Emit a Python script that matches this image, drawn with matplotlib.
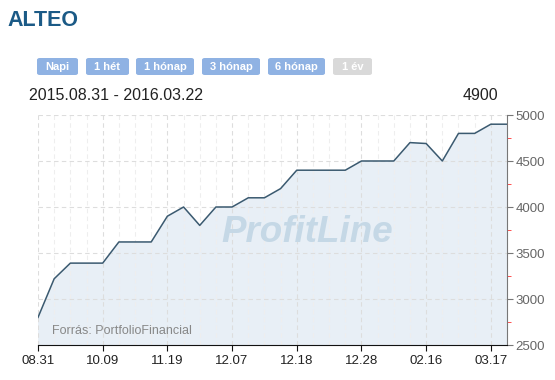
import matplotlib
matplotlib.use("Agg")
import matplotlib.pyplot as plt
from matplotlib.patches import FancyBboxPatch
from matplotlib.ticker import MultipleLocator, FixedLocator

plt.rcParams['font.family'] = ['Liberation Sans', 'DejaVu Sans']

# data (one point per trading sample)
prices = [2800, 3220, 3390, 3390, 3390, 3620, 3620, 3620, 3900, 4000,
          3800, 4000, 4000, 4100, 4100, 4200, 4400, 4400, 4400, 4400,
          4500, 4500, 4500, 4700, 4690, 4500, 4800, 4800, 4900, 4900]
tick_pos = [0, 4, 8, 12, 16, 20, 24, 28]
tick_labels = ['08.31', '10.09', '11.19', '12.07', '12.18', '12.28', '02.16', '03.17']
buttons = ['Napi', '1 hét', '1 hónap', '3 hónap', '6 hónap', '1 év']
period = '2015.08.31 - 2016.03.22'
last_price = '4900'

W, H = 555, 380
fig = plt.figure(figsize=(W / 100, H / 100), dpi=100)

# header
fig.text(7 / W, 1 - 20 / H, 'ALTEO', fontsize=15.5, fontweight='bold',
         color='#1b5a86', va='center', ha='left')

# period buttons (pixel boxes)
btn_x = [37, 86, 136, 202, 268, 333]
btn_w = [41, 43, 58, 58, 57, 39]
for i, b in enumerate(buttons):
    c = '#d9d9d9' if b == '1 év' else '#8fb2e3'
    x0 = btn_x[i] / W
    y0 = 1 - 75 / H
    p = FancyBboxPatch((x0, y0), btn_w[i] / W, 17 / H,
                       boxstyle='round,pad=0,rounding_size=0.005',
                       transform=fig.transFigure, fc=c, ec='none')
    fig.patches.append(p)
    fig.text(x0 + btn_w[i] / 2 / W, y0 + 8.5 / H, b, fontsize=8,
             fontweight='bold', color='white', ha='center', va='center')

fig.text(29 / W, 1 - 95 / H, period, fontsize=11.5, color='#222222',
         ha='left', va='center')
fig.text(498 / W, 1 - 95 / H, last_price, fontsize=11.5, color='#222222',
         ha='right', va='center')

ax = fig.add_axes([38 / W, 1 - 345 / H, (507 - 38) / W, (345 - 115) / H])
x = list(range(len(prices)))
ax.fill_between(x, prices, 2500, color='#e8eff6', zorder=1)
ax.plot(x, prices, color='#3b5a70', lw=1.1, zorder=3)
ax.set_xlim(0, len(prices) - 1)
ax.set_ylim(2500, 5000)

# grid
ax.xaxis.set_major_locator(FixedLocator(tick_pos))
ax.set_xticklabels(tick_labels)
ax.xaxis.set_minor_locator(MultipleLocator(1))
ax.yaxis.set_major_locator(MultipleLocator(500))
ax.yaxis.set_minor_locator(MultipleLocator(250))
ax.grid(which='major', color='#dddddd', ls=(0, (4, 3)), lw=0.8, zorder=0)
ax.grid(which='minor', axis='x', color='#eeeeee', ls=(0, (4, 3)), lw=0.8, zorder=0)

ax.yaxis.tick_right()
for s in ['left', 'top']:
    ax.spines[s].set_visible(False)
ax.spines['right'].set_color('#777777')
ax.spines['bottom'].set_color('#111111')
ax.tick_params(axis='y', which='major', labelsize=9.5, labelcolor='#666666',
               color='#777777', length=4, pad=2)
ax.tick_params(axis='y', which='minor', color='#ff3333', length=3)
ax.tick_params(axis='x', which='major', labelsize=9.5, labelcolor='#222222',
               color='#111111', length=4, pad=3)
ax.tick_params(axis='x', which='minor', length=0)
ax.set_facecolor('white')

# watermark and source
ax.text(0.574, 0.487, 'ProfitLine', transform=ax.transAxes, fontsize=26.5,
        fontweight='bold', style='italic', color='#c5d8e6', ha='center',
        va='center', zorder=2)
ax.text(0.03, 0.06, 'Forrás: PortfolioFinancial', transform=ax.transAxes,
        fontsize=9, color='#888888', ha='left', va='center', zorder=4)

fig.savefig('out.png', dpi=100)
